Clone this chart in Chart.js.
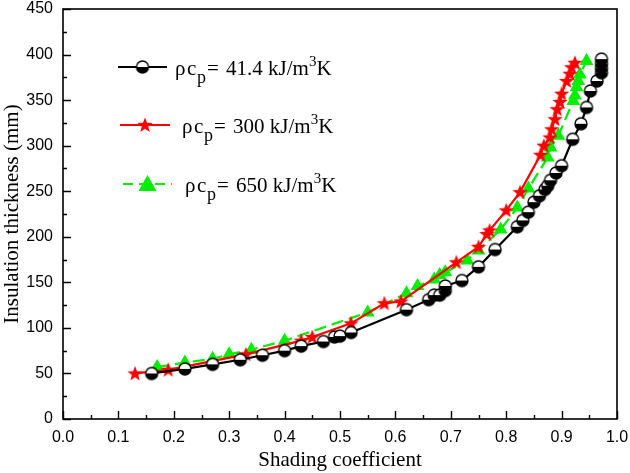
<!DOCTYPE html>
<html>
<head>
<meta charset="utf-8">
<script src="https://cdn.jsdelivr.net/npm/chart.js@4.4.1/dist/chart.umd.min.js"></script>
<style>
  html, body { margin: 0; padding: 0; background: #fff; }
  #wrap { width: 630px; height: 473px; }
</style>
</head>
<body>
<div id="wrap"><canvas id="chart" width="630" height="473"></canvas></div>
<script>
// series values (x = shading coefficient, y = thickness in mm)
const blackX = [0.16, 0.22, 0.27, 0.32, 0.36, 0.40, 0.43, 0.47, 0.49, 0.50, 0.52, 0.62, 0.66, 0.67, 0.68, 0.69, 0.69, 0.72, 0.75, 0.78, 0.82, 0.83, 0.84, 0.85, 0.86, 0.87, 0.875, 0.88, 0.89, 0.90, 0.92, 0.935, 0.945, 0.952, 0.964, 0.972, 0.972, 0.972, 0.972];
const blackY = [50, 55, 60, 65, 70, 75, 80, 85, 90, 91, 95, 120, 131, 136, 136, 141, 146, 152, 167, 186, 211, 218, 227, 238, 245, 252, 256, 262, 270, 278, 307, 324, 342, 360, 371, 380, 385, 390, 395];

const redX = [0.13, 0.19, 0.33, 0.43, 0.45, 0.52, 0.58, 0.61, 0.71, 0.75, 0.765, 0.77, 0.80, 0.825, 0.862, 0.868, 0.879, 0.882, 0.888, 0.892, 0.897, 0.90, 0.909, 0.915, 0.918, 0.924];
const redY = [50, 54, 71, 86, 90, 105, 127, 129, 172, 189, 203, 207, 229, 249, 290, 300, 309, 318, 329, 340, 348, 357, 371, 379, 386, 391];

const greenX = [0.17, 0.22, 0.27, 0.30, 0.34, 0.40, 0.55, 0.62, 0.64, 0.67, 0.68, 0.69, 0.73, 0.75, 0.79, 0.82, 0.84, 0.875, 0.88, 0.894, 0.921, 0.924, 0.927, 0.93, 0.933, 0.945];
const greenY = [57, 62, 66, 71, 76, 86, 117, 138, 146, 153, 158, 161, 174, 185, 208, 232, 253, 287, 298, 311, 349, 355, 364, 371, 378, 393];

const seriesNames = ['41.4', '300', '650'];
const xRange = [0, 1], xStep = 0.1;
const yRange = [0, 450], yStep = 50;

function pts(xs, ys) { return xs.map((x, i) => ({ x: x, y: ys[i] })); }

// half filled circle marker
function halfCircle(r) {
  const c = document.createElement('canvas');
  const s = r * 2 + 4;
  c.width = s; c.height = s;
  const g = c.getContext('2d');
  const m = s / 2;
  g.beginPath(); g.arc(m, m, r, 0, Math.PI * 2); g.fillStyle = '#fff'; g.fill();
  g.beginPath(); g.arc(m, m, r, 0, Math.PI); g.closePath(); g.fillStyle = '#000'; g.fill();
  g.beginPath(); g.arc(m, m, r, 0, Math.PI * 2); g.lineWidth = 1.4; g.strokeStyle = '#000'; g.stroke();
  return c;
}

function starMark(r, color) {
  const c = document.createElement('canvas');
  const s = r * 2 + 2;
  c.width = s; c.height = s;
  const g = c.getContext('2d');
  const m = s / 2;
  g.beginPath();
  for (let i = 0; i < 10; i++) {
    const rr = i % 2 === 0 ? r : r * 0.42;
    const a = -Math.PI / 2 + i * Math.PI / 5;
    const px = m + rr * Math.cos(a), py = m + 0.5 + rr * Math.sin(a);
    if (i === 0) g.moveTo(px, py); else g.lineTo(px, py);
  }
  g.closePath(); g.fillStyle = color; g.fill();
  return c;
}

const circleImg = halfCircle(6);
const starImg = starMark(8, '#ff0000');

// inward ticks and frame
const frameTicks = {
  id: 'frameTicks',
  afterDraw(chart) {
    const ctx = chart.ctx, a = chart.chartArea;
    const xs = chart.scales.x, ys = chart.scales.y;
    ctx.save();
    ctx.strokeStyle = '#000';
    ctx.lineWidth = 1.6;
    ctx.strokeRect(a.left, a.top, a.right - a.left, a.bottom - a.top);
    ctx.lineWidth = 1.4;
    ctx.beginPath();
    for (let i = 0; i <= 20; i++) {
      const v = i * 0.05;
      const px = Math.round(xs.getPixelForValue(v)) + 0.5;
      const len = i % 2 === 0 ? 8 : 4;
      ctx.moveTo(px, a.bottom); ctx.lineTo(px, a.bottom - len);
    }
    for (let i = 0; i <= 18; i++) {
      const v = i * 25;
      const py = Math.round(ys.getPixelForValue(v)) + 0.5;
      const len = i % 2 === 0 ? 8 : 4;
      ctx.moveTo(a.left, py); ctx.lineTo(a.left + len, py);
    }
    ctx.stroke();
    ctx.restore();
  }
};

// legend with subscript / superscript
const customLegend = {
  id: 'customLegend',
  afterDraw(chart) {
    const ctx = chart.ctx;
    const rows = [
      { y: 67, x0: 118, x1: 167, tx: 175, color: '#000', dash: [], mark: 'circle' },
      { y: 125, x0: 120, x1: 170, tx: 182, color: '#ff0000', dash: [], mark: 'star' },
      { y: 184, x0: 123, x1: 172, tx: 185, color: '#00ee00', dash: [10, 6], mark: 'tri' }
    ];
    const big = '21px "Liberation Serif", "DejaVu Serif", serif';
    ctx.save();
    rows.forEach((r, i) => {
      ctx.strokeStyle = r.color;
      ctx.lineWidth = 2.2;
      ctx.setLineDash(r.dash);
      ctx.beginPath(); ctx.moveTo(r.x0, r.y); ctx.lineTo(r.x1, r.y); ctx.stroke();
      ctx.setLineDash([]);
      const mx = (r.x0 + r.x1) / 2;
      if (r.mark === 'circle') ctx.drawImage(circleImg, mx - circleImg.width / 2, r.y - circleImg.height / 2);
      if (r.mark === 'star') ctx.drawImage(starImg, mx - starImg.width / 2, r.y - starImg.height / 2);
      if (r.mark === 'tri') {
        ctx.fillStyle = r.color;
        ctx.beginPath(); ctx.moveTo(mx, r.y - 9); ctx.lineTo(mx + 9, r.y + 7); ctx.lineTo(mx - 9, r.y + 7); ctx.closePath(); ctx.fill();
      }
      ctx.fillStyle = '#000';
      ctx.textBaseline = 'alphabetic';
      ctx.textAlign = 'left';
      const base = r.y + 8;
      const x = r.tx;
      ctx.font = big;
      ctx.fillText('\u03c1', x, base);
      ctx.fillText('c', x + 12, base);
      ctx.font = '18px "Liberation Serif", serif';
      ctx.fillText('p', x + 22, base + 8);
      ctx.font = big;
      ctx.fillText('=', x + 32, base);
      let tx = x + 32 + ctx.measureText('= ').width + 2;
      const mid = seriesNames[i] + ' kJ/m';
      ctx.fillText(mid, tx, base); tx += ctx.measureText(mid).width;
      ctx.font = '15px "Liberation Serif", serif';
      ctx.fillText('3', tx, base - 9); tx += ctx.measureText('3').width;
      ctx.font = big;
      ctx.fillText('K', tx, base);
    });
    ctx.restore();
  }
};

new Chart(document.getElementById('chart'), {
  type: 'scatter',
  data: {
    datasets: [
      {
        data: pts(blackX, blackY), showLine: true, borderColor: '#000', borderWidth: 2.2,
        pointStyle: circleImg, tension: 0
      },
      {
        data: pts(redX, redY), showLine: true, borderColor: '#ff0000', borderWidth: 2.2,
        pointStyle: starImg, tension: 0
      },
      {
        data: pts(greenX, greenY), showLine: true, borderColor: '#00ee00', backgroundColor: '#00ee00',
        borderWidth: 2.2, borderDash: [12, 6], pointStyle: 'triangle', pointRadius: 8,
        pointBorderWidth: 0, pointBorderColor: '#00ee00', tension: 0
      }
    ]
  },
  options: {
    responsive: false,
    animation: false,
    devicePixelRatio: 1,
    layout: { padding: { top: 9, right: 13, left: 0, bottom: 0 } },
    plugins: { legend: { display: false }, tooltip: { enabled: false } },
    scales: {
      x: {
        type: 'linear', min: xRange[0], max: xRange[1],
        grid: { display: false, drawTicks: false },
        border: { display: false },
        ticks: {
          stepSize: xStep, color: '#000', padding: 9,
          font: { family: '"Liberation Sans", Arial, sans-serif', size: 16 },
          callback: v => v.toFixed(1)
        },
        title: {
          display: true, text: 'Shading coefficient', color: '#000', padding: { top: 0, bottom: 0 },
          font: { family: '"Liberation Serif", "Times New Roman", serif', size: 21 }
        },
        afterFit(s) { s.height = 54; s.paddingLeft = 0; s.paddingRight = 0; }
      },
      y: {
        type: 'linear', min: yRange[0], max: yRange[1],
        grid: { display: false, drawTicks: false },
        border: { display: false },
        ticks: {
          stepSize: yStep, color: '#000', padding: 10,
          font: { family: '"Liberation Sans", Arial, sans-serif', size: 16 }
        },
        title: {
          display: true, text: 'Insulation thickness (mm)', color: '#000', padding: { top: 0, bottom: 0 },
          font: { family: '"Liberation Serif", "Times New Roman", serif', size: 21 }
        },
        afterFit(s) { s.width = 63; s.paddingTop = 0; s.paddingBottom = 0; }
      }
    }
  },
  plugins: [frameTicks, customLegend]
});
</script>
</body>
</html>
